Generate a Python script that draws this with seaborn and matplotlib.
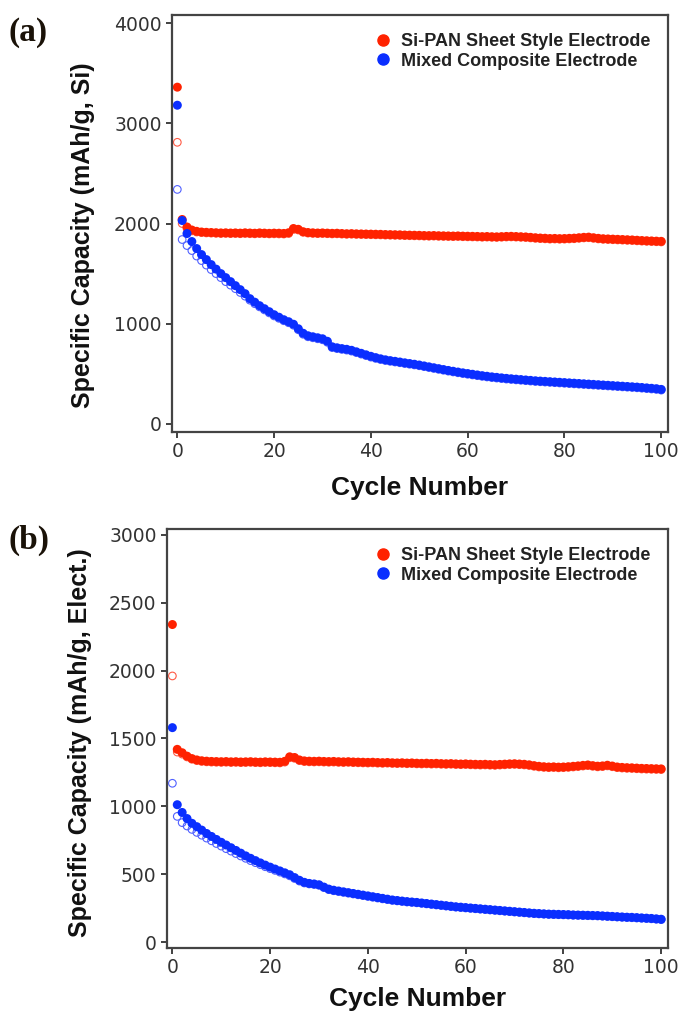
import matplotlib
matplotlib.use("Agg")
import matplotlib.pyplot as plt
import pandas as pd
import seaborn as sns
from matplotlib.lines import Line2D

# cycle numbers 0..100
cycles = list(range(101))

# ---- panel (a): capacity per gram of Si ----
red_chg_a = [3360, 2040, 1965, 1935, 1922, 1915, 1912, 1910, 1908, 1906,
             1907, 1905, 1906, 1904, 1907, 1905, 1903, 1906, 1904, 1902,
             1904, 1903, 1901, 1908, 1950, 1942, 1918, 1910, 1907, 1905,
             1906, 1904, 1902, 1903, 1900, 1898, 1899, 1897, 1896, 1895,
             1894, 1893, 1892, 1890, 1889, 1888, 1887, 1885, 1884, 1883,
             1882, 1880, 1879, 1880, 1878, 1877, 1876, 1875, 1876, 1874,
             1873, 1872, 1871, 1869, 1870, 1868, 1867, 1869, 1871, 1872,
             1870, 1868, 1866, 1862, 1858, 1855, 1853, 1850, 1851, 1849,
             1850, 1852, 1854, 1858, 1862, 1864, 1858, 1852, 1848, 1846,
             1844, 1842, 1840, 1838, 1836, 1833, 1830, 1828, 1826, 1824,
             1822]
red_dis_a = [2810, 2000, 1950, 1926, 1915, 1909, 1906, 1904, 1902, 1900,
             1901, 1899, 1900, 1898, 1900, 1898, 1897, 1899, 1898, 1896,
             1897, 1896, 1895, 1900, 1940, 1935, 1912, 1904, 1901, 1899,
             1900, 1898, 1896, 1897, 1894, 1892, 1893, 1891, 1890, 1889,
             1888, 1887, 1886, 1884, 1883, 1882, 1881, 1879, 1878, 1877,
             1876, 1874, 1873, 1874, 1872, 1871, 1870, 1869, 1870, 1868,
             1867, 1866, 1865, 1863, 1864, 1862, 1861, 1863, 1865, 1866,
             1864, 1862, 1860, 1856, 1852, 1849, 1847, 1844, 1845, 1843,
             1844, 1846, 1848, 1852, 1856, 1858, 1852, 1846, 1842, 1840,
             1838, 1836, 1834, 1832, 1830, 1827, 1824, 1822, 1820, 1818,
             1816]
blue_chg_a = [3180, 2030, 1900, 1820, 1750, 1690, 1640, 1590, 1545, 1500,
              1460, 1420, 1380, 1340, 1300, 1250, 1215, 1180, 1150, 1120,
              1090, 1065, 1040, 1020, 995, 950, 905, 880, 870, 860,
              850, 825, 770, 760, 752, 745, 735, 720, 705, 690,
              675, 662, 650, 640, 632, 625, 618, 610, 603, 596,
              588, 579, 570, 561, 552, 543, 534, 526, 518, 510,
              503, 496, 489, 482, 476, 470, 465, 460, 455, 451,
              447, 443, 439, 435, 431, 428, 425, 422, 419, 416,
              413, 410, 407, 404, 401, 398, 395, 392, 389, 386,
              383, 380, 377, 374, 371, 368, 364, 360, 356, 352,
              345]
blue_dis_a = [2340, 1840, 1780, 1730, 1675, 1630, 1585, 1540, 1500, 1460,
              1420, 1385, 1350, 1312, 1275, 1235, 1200, 1168, 1138, 1108,
              1078, 1054, 1030, 1010, 985, 940, 895, 870, 860, 850,
              840, 815, 762, 752, 744, 737, 727, 712, 697, 682,
              667, 654, 643, 633, 625, 618, 611, 603, 596, 589,
              581, 572, 563, 554, 545, 536, 527, 519, 511, 503,
              496, 489, 482, 475, 469, 463, 458, 453, 448, 444,
              440, 436, 432, 428, 424, 421, 418, 415, 412, 409,
              406, 403, 400, 397, 394, 391, 388, 385, 382, 379,
              376, 373, 370, 367, 364, 361, 357, 353, 349, 345,
              338]

# ---- panel (b): capacity per gram of electrode ----
red_chg_b = [2340, 1420, 1395, 1370, 1352, 1342, 1336, 1333, 1331, 1330,
             1329, 1330, 1328, 1329, 1327, 1328, 1329, 1327, 1326, 1328,
             1327, 1326, 1325, 1332, 1365, 1360, 1342, 1335, 1333, 1332,
             1333, 1331, 1330, 1331, 1329, 1328, 1329, 1327, 1326, 1325,
             1324, 1325, 1323, 1322, 1323, 1321, 1320, 1321, 1319, 1320,
             1318, 1317, 1318, 1316, 1317, 1315, 1314, 1315, 1313, 1312,
             1313, 1311, 1310, 1309, 1310, 1308, 1307, 1309, 1311, 1313,
             1314, 1312, 1310, 1306, 1300, 1295, 1292, 1290, 1291, 1289,
             1290, 1292, 1295, 1298, 1302, 1305, 1300, 1296, 1298, 1303,
             1297, 1290, 1287, 1285, 1284, 1282, 1280, 1279, 1278, 1277,
             1276]
red_dis_b = [1961, 1400, 1385, 1364, 1347, 1337, 1331, 1328, 1326, 1325,
             1324, 1325, 1323, 1324, 1322, 1323, 1324, 1322, 1321, 1323,
             1322, 1321, 1320, 1326, 1358, 1354, 1337, 1330, 1328, 1327,
             1328, 1326, 1325, 1326, 1324, 1323, 1324, 1322, 1321, 1320,
             1319, 1320, 1318, 1317, 1318, 1316, 1315, 1316, 1314, 1315,
             1313, 1312, 1313, 1311, 1312, 1310, 1309, 1310, 1308, 1307,
             1308, 1306, 1305, 1304, 1305, 1303, 1302, 1304, 1306, 1308,
             1309, 1307, 1305, 1301, 1295, 1290, 1287, 1285, 1286, 1284,
             1285, 1287, 1290, 1293, 1297, 1300, 1295, 1291, 1293, 1298,
             1292, 1285, 1282, 1280, 1279, 1277, 1275, 1274, 1273, 1272,
             1271]
blue_chg_b = [1580, 1012, 955, 910, 875, 850, 825, 800, 778, 756,
              735, 715, 695, 675, 655, 635, 617, 600, 583, 567,
              552, 538, 524, 510, 496, 475, 455, 440, 432, 428,
              422, 405, 390, 382, 376, 370, 364, 358, 352, 346,
              340, 334, 328, 322, 316, 310, 306, 302, 298, 295,
              292, 288, 284, 280, 276, 272, 268, 264, 260, 257,
              254, 251, 248, 245, 242, 239, 236, 233, 230, 227,
              224, 221, 218, 215, 212, 210, 208, 206, 205, 204,
              203, 202, 200, 199, 198, 197, 196, 195, 193, 191,
              189, 187, 185, 183, 182, 180, 178, 176, 174, 171,
              168]
blue_dis_b = [1170, 926, 880, 855, 830, 808, 787, 766, 746, 726,
              707, 688, 670, 652, 634, 617, 600, 585, 570, 555,
              541, 528, 515, 502, 488, 468, 449, 435, 428, 424,
              418, 401, 386, 378, 372, 366, 360, 354, 348, 342,
              336, 330, 324, 318, 313, 307, 303, 299, 295, 292,
              289, 285, 281, 277, 273, 269, 265, 261, 257, 254,
              251, 248, 245, 242, 239, 236, 233, 230, 227, 224,
              221, 218, 215, 212, 209, 207, 205, 203, 202, 201,
              200, 199, 197, 196, 195, 194, 193, 192, 190, 188,
              186, 184, 182, 180, 179, 177, 175, 173, 171, 168,
              165]

legend_labels = ["Si-PAN Sheet Style Electrode", "Mixed Composite Electrode"]
x_ticks = [0, 20, 40, 60, 80, 100]
y_ticks_a = [0, 1000, 2000, 3000, 4000]
y_ticks_b = [0, 500, 1000, 1500, 2000, 2500, 3000]

RED = "#ff2200"
BLUE = "#0a2eff"
RED_OPEN = "#ff5a45"
BLUE_OPEN = "#5060ff"

sns.set_style("ticks")
plt.rcParams["font.family"] = ["DejaVu Sans"]

fig = plt.figure(figsize=(6.8, 10.15), dpi=100)
ax_a = fig.add_axes([172 / 680, 1 - 432 / 1015, 496 / 680, 417 / 1015])
ax_b = fig.add_axes([167 / 680, 1 - 948 / 1015, 501 / 680, 419 / 1015])


def draw_panel(ax, red_chg, red_dis, blue_chg, blue_dis, ylabel, yticks, ylim, label):
    df = pd.DataFrame({"cycle": cycles, "red_chg": red_chg, "red_dis": red_dis,
                       "blue_chg": blue_chg, "blue_dis": blue_dis})
    sns.scatterplot(data=df, x="cycle", y="red_dis", ax=ax, marker="o", s=30,
                    facecolor="none", edgecolor=RED_OPEN, linewidth=0.8)
    sns.scatterplot(data=df, x="cycle", y="red_chg", ax=ax, marker="o", s=42,
                    color=RED, edgecolor="none")
    sns.scatterplot(data=df, x="cycle", y="blue_dis", ax=ax, marker="o", s=30,
                    facecolor="none", edgecolor=BLUE_OPEN, linewidth=0.8)
    sns.scatterplot(data=df, x="cycle", y="blue_chg", ax=ax, marker="o", s=42,
                    color=BLUE, edgecolor="none")

    ax.set_xlim(-1.1, 101.4)
    ax.set_ylim(*ylim)
    ax.set_xticks(x_ticks)
    ax.set_yticks(yticks)
    for sp in ax.spines.values():
        sp.set_visible(True)
        sp.set_color("#444444")
        sp.set_linewidth(1.6)
    ax.tick_params(axis="both", direction="out", length=4.5, width=1.3,
                   color="#333333", labelsize=13.5, labelcolor="#333333", pad=3)

    ax.set_xlabel("Cycle Number", fontsize=19, fontweight="bold",
                  family=["Liberation Sans"], color="#111111")
    ax.set_ylabel(ylabel, fontsize=18, fontweight="bold",
                  family=["Liberation Sans"], color="#111111")

    handles = [Line2D([], [], marker="o", linestyle="none", color=RED, markersize=8),
               Line2D([], [], marker="o", linestyle="none", color=BLUE, markersize=8)]
    ax.legend(handles, legend_labels, loc="upper right", frameon=False,
              prop={"family": "Liberation Sans", "weight": "bold", "size": 13},
              handlelength=0.8, handletextpad=0.6, labelspacing=0.15,
              borderaxespad=0.6, labelcolor="#222222")

    fig.text(label[1], label[2], label[0], fontsize=24, fontweight="bold",
             family=["Liberation Serif"], color="#1a1208", va="center")


draw_panel(ax_a, red_chg_a, red_dis_a, blue_chg_a, blue_dis_a,
           "Specific Capacity (mAh/g, Si)", y_ticks_a, (-80, 4080),
           ("(a)", 8 / 680, 1 - 33 / 1015))
ax_a.yaxis.set_label_coords(-0.155, 0.472)
ax_a.xaxis.set_label_coords(0.5, -0.105)

draw_panel(ax_b, red_chg_b, red_dis_b, blue_chg_b, blue_dis_b,
           "Specific Capacity (mAh/g, Elect.)", y_ticks_b, (-44, 3044),
           ("(b)", 8 / 680, 1 - 540 / 1015))
ax_b.yaxis.set_label_coords(-0.150, 0.49)
ax_b.xaxis.set_label_coords(0.5, -0.093)

fig.savefig("out.png", dpi=100)
